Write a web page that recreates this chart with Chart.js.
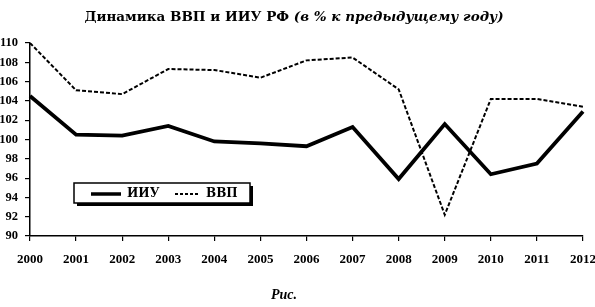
<!DOCTYPE html>
<html lang="ru">
<head>
  <meta charset="UTF-8">
  <title>Динамика ВВП и ИИУ РФ</title>
  <script src="https://cdn.jsdelivr.net/npm/chart.js"></script>
  <style>
    body { margin: 0; background: #fff; }
    #wrap { position: relative; width: 595px; height: 307px; }
    #title { position: absolute; left: 0; top: 8px; width: 588px; text-align: center;
             font: bold 13.5px "DejaVu Serif", serif; color: #000; }
    #title i { font-style: italic; }
    #cap { position: absolute; left: 0; top: 287px; width: 568px; text-align: center;
           font: bold italic 14px "Liberation Serif", serif; color: #000; }
    #myChart { position: absolute; left: 0; top: 0; }
  </style>
</head>
<body>
<div id="wrap">
  <canvas id="myChart" width="595" height="307"></canvas>
  <div id="title">Динамика ВВП и ИИУ РФ <i>(в % к предыдущему году)</i></div>
  <div id="cap">Рис.</div>
</div>
<script>
const years = ['2000','2001','2002','2003','2004','2005','2006','2007','2008','2009','2010','2011','2012'];
const iiu = [104.5, 100.5, 100.4, 101.4, 99.8, 99.6, 99.3, 101.3, 95.9, 101.6, 96.4, 97.5, 102.9];
const vvp = [110.0, 105.1, 104.7, 107.3, 107.2, 106.4, 108.2, 108.5, 105.2, 92.2, 104.2, 104.2, 103.4];

// legend box drawn by hand, like the original
const legendBox = {
  id: 'legendBox',
  afterDraw(chart) {
    const ctx = chart.ctx;
    ctx.save();
    ctx.fillStyle = '#000';
    ctx.fillRect(77, 186, 176, 20);
    ctx.fillStyle = '#fff';
    ctx.strokeStyle = '#000';
    ctx.lineWidth = 1.5;
    ctx.fillRect(74, 183, 176, 20);
    ctx.strokeRect(74, 183, 176, 20);

    ctx.beginPath();
    ctx.lineWidth = 3.5;
    ctx.moveTo(91, 194); ctx.lineTo(121, 194);
    ctx.stroke();
    ctx.beginPath();
    ctx.lineWidth = 2;
    ctx.setLineDash([3, 2]);
    ctx.moveTo(175, 194); ctx.lineTo(200, 194);
    ctx.stroke();
    ctx.setLineDash([]);

    ctx.fillStyle = '#000';
    ctx.font = 'bold 12px "DejaVu Serif", serif';
    ctx.textBaseline = 'middle';
    ctx.fillText('ИИУ', 127, 194);
    ctx.fillText('ВВП', 206, 194);
    ctx.restore();
  }
};

const data = {
  labels: years,
  datasets: [{
    label: 'ИИУ',
    data: iiu,
    borderColor: '#000',
    borderWidth: 3.8,
    pointRadius: 0,
    tension: 0
  }, {
    label: 'ВВП',
    data: vvp,
    borderColor: '#000',
    borderWidth: 2,
    borderDash: [4, 2],
    pointRadius: 0,
    tension: 0
  }]
};

const config = {
  type: 'line',
  data: data,
  plugins: [legendBox],
  options: {
    responsive: false,
    animation: false,
    layout: { padding: { top: 43, right: 12, left: 0, bottom: 0 } },
    plugins: { legend: { display: false }, title: { display: false }, tooltip: { enabled: false } },
    scales: {
      x: {
        offset: false,
        grid: { drawOnChartArea: false, tickLength: 5, color: '#000', lineWidth: 1.2 },
        border: { color: '#000', width: 1.5 },
        ticks: { color: '#000', padding: 11, maxRotation: 0, font: { family: 'Liberation Serif', weight: 'bold', size: 13 } },
        afterFit(s) { s.height = 71; s.paddingLeft = 0; s.paddingRight = 0; }
      },
      y: {
        min: 90, max: 110,
        grid: { drawOnChartArea: false, tickLength: 5, color: '#000', lineWidth: 1.2 },
        border: { color: '#000', width: 1.5 },
        ticks: { stepSize: 2, color: '#000', padding: 7, font: { family: 'Liberation Serif', weight: 'bold', size: 12.5 } },
        afterFit(s) { s.width = 30; s.paddingTop = 0; s.paddingBottom = 0; }
      }
    }
  }
};

const myChart = new Chart(document.getElementById('myChart'), config);
</script>
</body>
</html>
